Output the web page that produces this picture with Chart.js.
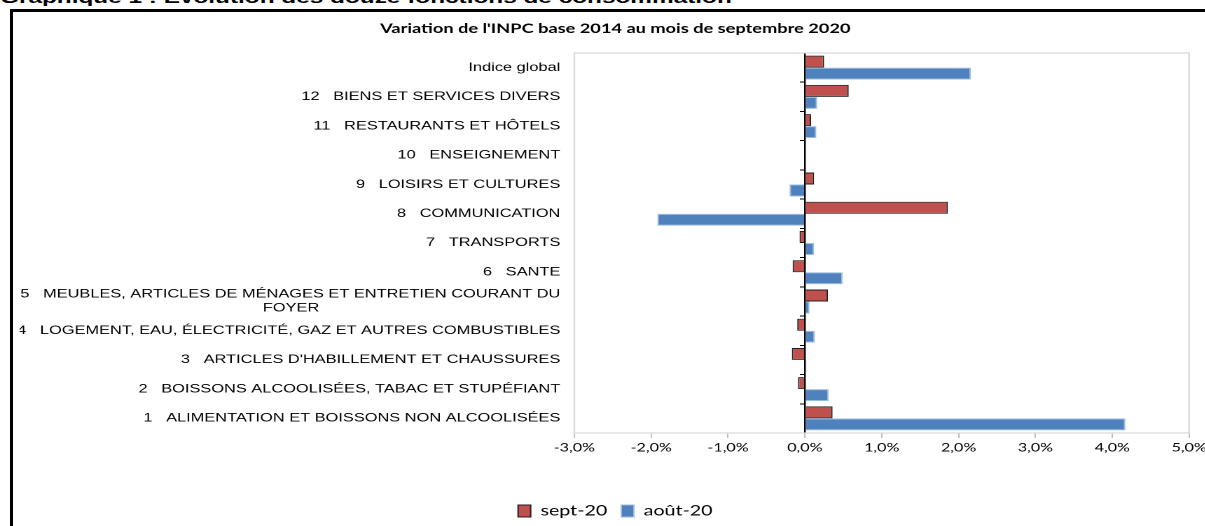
<!DOCTYPE html>
<html>
<head>
<meta charset="utf-8">
<script src="https://cdn.jsdelivr.net/npm/chart.js@4.4.1/dist/chart.umd.min.js"></script>
<style>
  html, body { margin: 0; padding: 0; background: #fff; overflow: hidden; }
  body { width: 1205px; height: 526px; position: relative; }
  #head { position: absolute; left: 0; top: -10.7px; width: 860.7px; transform: scaleX(1.4); transform-origin: 0 0;
          font: bold 17.4px "Liberation Sans", Arial, sans-serif; line-height: 17.4px; color: #000; white-space: nowrap; }
  #frame { position: absolute; left: 10px; top: 9px; width: 1300px; height: 600px;
           border-left: 3px solid #000; border-top: 3px solid #000; z-index: 2; pointer-events: none; }
  #wrap { position: absolute; left: 0; top: 0; width: 864.5px; height: 526px; transform: scaleX(1.4); transform-origin: 0 0; }
</style>
</head>
<body>
<div id="head">Graphique 1 : Evolution des douze fonctions de consommation</div>
<div id="frame"></div>
<div id="wrap"><canvas id="c"></canvas></div>
<script>
const categories = [
  'Indice global',
  '12   BIENS ET SERVICES DIVERS',
  '11   RESTAURANTS ET HÔTELS',
  '10   ENSEIGNEMENT',
  '9   LOISIRS ET CULTURES',
  '8   COMMUNICATION',
  '7   TRANSPORTS',
  '6   SANTE',
  ['5   MEUBLES, ARTICLES DE MÉNAGES ET ENTRETIEN COURANT DU', 'FOYER'],
  '4   LOGEMENT, EAU, ÉLECTRICITÉ, GAZ ET AUTRES COMBUSTIBLES',
  "3   ARTICLES D'HABILLEMENT ET CHAUSSURES",
  '2   BOISSONS ALCOOLISÉES, TABAC ET STUPÉFIANT',
  '1   ALIMENTATION ET BOISSONS NON ALCOOLISÉES'
];
const seriesNames = ['sept-20', 'août-20'];
const sept20 = [0.25, 0.57, 0.08, 0, 0.12, 1.86, -0.07, -0.16, 0.30, -0.10, -0.17, -0.09, 0.36];
const aout20 = [2.16, 0.16, 0.15, 0, -0.20, -1.92, 0.12, 0.49, 0.06, 0.13, 0.02, 0.31, 4.17];
const xTicks = [-3, -2, -1, 0, 1, 2, 3, 4, 5];
const chartTitle = "Variation de l'INPC base 2014 au mois de septembre 2020";

const labelFontSize = 11.7;
const measureCtx = document.createElement('canvas').getContext('2d');
measureCtx.font = labelFontSize + 'px "Liberation Sans", Arial, sans-serif';
function centerUnderFirst(lbl) {
  if (!Array.isArray(lbl)) return lbl;
  const w1 = measureCtx.measureText(lbl[0]).width;
  const sp = measureCtx.measureText('\u00A0').width;
  return lbl.map((l, i) => {
    if (i === 0) return l;
    const w = measureCtx.measureText(l).width;
    const n = Math.max(0, Math.round((w1 - w) / 2 / sp));
    return l + '\u00A0'.repeat(n);
  });
}

const plotBorder = {
  id: 'plotBorder',
  beforeDatasetsDraw(chart) {
    const a = chart.chartArea, ctx = chart.ctx;
    ctx.save();
    ctx.strokeStyle = '#d9d9d9';
    ctx.lineWidth = 1.2;
    ctx.strokeRect(a.left, a.top, a.right - a.left, a.bottom - a.top);
    ctx.restore();
  }
};

Chart.defaults.color = '#000';
new Chart(document.getElementById('c'), {
  type: 'bar',
  data: {
    labels: categories,
    datasets: [
      { label: seriesNames[0], data: sept20, backgroundColor: '#c0504d', borderColor: '#1f1f1f', borderWidth: 1 },
      { label: seriesNames[1], data: aout20, backgroundColor: '#4f81bd', borderColor: '#9bbbe0', borderWidth: 1 }
    ]
  },
  plugins: [plotBorder],
  options: {
    indexAxis: 'y',
    responsive: true,
    maintainAspectRatio: false,
    animation: false,
    devicePixelRatio: 2,
    categoryPercentage: 0.82,
    barPercentage: 1.0,
    layout: { padding: { left: 14, top: 0, bottom: -2, right: 0 } },
    plugins: {
      tooltip: { enabled: false },
      title: {
        display: true, text: chartTitle, color: '#000',
        font: { family: 'Lato, "Open Sans", sans-serif', size: 13, weight: 'bold' },
        padding: { top: 21, bottom: 16.4 }
      },
      legend: {
        position: 'bottom',
        labels: {
          boxWidth: 9, boxHeight: 12, padding: 10, color: '#000',
          font: { family: 'Lato, "Open Sans", sans-serif', size: 14 }
        }
      }
    },
    scales: {
      x: {
        type: 'linear', min: xTicks[0], max: xTicks[xTicks.length - 1],
        afterBuildTicks(scale) { scale.ticks = xTicks.map(v => ({ value: v })); },
        afterFit(scale) { scale.height = 61; },
        grid: { drawOnChartArea: false, drawTicks: true, tickLength: 5, color: '#bfbfbf' },
        border: { display: true, color: '#bfbfbf' },
        ticks: {
          padding: 3, color: '#000',
          font: { family: 'Lato, "Open Sans", sans-serif', size: 11.5 },
          callback: v => v.toFixed(1).replace('.', ',').replace('-0,0', '0,0') + '%'
        }
      },
      y: {
        type: 'category', position: 'left', offset: true,
        afterFit(scale) { scale.width = 396; },
        grid: { display: false, drawTicks: false },
        border: { display: false },
        ticks: {
          padding: 10, color: '#000', autoSkip: false,
          font: { family: '"Liberation Sans", Arial, sans-serif', size: labelFontSize },
          callback(value) { return centerUnderFirst(this.getLabelForValue(value)); }
        }
      },
      y2: {
        type: 'category', axis: 'y', position: { x: 0 }, offset: true,
        grid: { offset: true, drawOnChartArea: false, drawTicks: true, tickLength: 3, color: '#000', lineWidth: 1 },
        border: { display: true, color: '#000', width: 1.2 },
        ticks: { display: false }
      }
    }
  }
});
</script>
</body>
</html>
